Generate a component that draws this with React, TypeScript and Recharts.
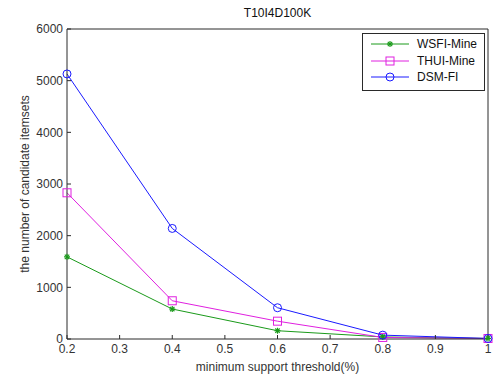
import { Line, LineChart, XAxis, YAxis } from "recharts";

const THRESHOLDS = [0.2, 0.4, 0.6, 0.8, 1.0];
const WSFI_MINE = [1590, 580, 160, 40, 10];
const THUI_MINE = [2830, 740, 345, 30, 10];
const DSM_FI = [5130, 2140, 605, 75, 10];

const X_TICKS = [0.2, 0.3, 0.4, 0.5, 0.6, 0.7, 0.8, 0.9, 1];
const Y_TICKS = [0, 1000, 2000, 3000, 4000, 5000, 6000];

const SERIES = [
  { key: "wsfi", label: "WSFI-Mine", color: "#1a9a1a", marker: "star" },
  { key: "thui", label: "THUI-Mine", color: "#e020e0", marker: "square" },
  { key: "dsm", label: "DSM-FI", color: "#1a1aff", marker: "circle" },
];

const data = THRESHOLDS.map((t, i) => ({
  t,
  wsfi: WSFI_MINE[i],
  thui: THUI_MINE[i],
  dsm: DSM_FI[i],
}));

const FONT = "'Liberation Sans', Arial, sans-serif";
const INK = "#2a2a2a";
const TXT = "#333";

function Marker({ cx, cy, kind, color }: any) {
  if (cx == null || cy == null) return null;
  if (kind === "square")
    return (
      <rect x={cx - 4} y={cy - 4} width={8} height={8} fill="none" stroke={color} strokeWidth={1} />
    );
  if (kind === "circle")
    return <circle cx={cx} cy={cy} r={4} fill="none" stroke={color} strokeWidth={1} />;
  return (
    <g stroke={color} strokeWidth={1.2}>
      <line x1={cx - 3} y1={cy} x2={cx + 3} y2={cy} />
      <line x1={cx} y1={cy - 3} x2={cx} y2={cy + 3} />
      <line x1={cx - 2.2} y1={cy - 2.2} x2={cx + 2.2} y2={cy + 2.2} />
      <line x1={cx - 2.2} y1={cy + 2.2} x2={cx + 2.2} y2={cy - 2.2} />
    </g>
  );
}

function LegendBox() {
  return (
    <div
      style={{
        position: "absolute",
        left: 362,
        top: 33,
        width: 121,
        height: 54,
        border: `1px solid ${INK}`,
        background: "#fff",
        paddingTop: 2,
        fontFamily: FONT,
        fontSize: 12,
        color: "#111",
        boxSizing: "content-box",
      }}
    >
      {SERIES.map((s) => (
        <div key={s.key} style={{ display: "flex", alignItems: "center", height: 16.5 }}>
          <svg width={44} height={12} style={{ marginLeft: 6, flexShrink: 0 }}>
            <line x1={2} y1={6} x2={40} y2={6} stroke={s.color} strokeWidth={1} />
            <Marker cx={21} cy={6} kind={s.marker} color={s.color} />
          </svg>
          <span style={{ marginLeft: 4 }}>{s.label}</span>
        </div>
      ))}
    </div>
  );
}

function YLabel({ viewBox }: any) {
  const cx = 25;
  const cy = viewBox.y + viewBox.height / 2;
  return (
    <text
      x={cx}
      y={cy}
      transform={`rotate(-90, ${cx}, ${cy})`}
      textAnchor="middle"
      dominantBaseline="central"
      fill={TXT}
      fontSize={12}
      fontFamily={FONT}
    >
      the number of candidate itemsets
    </text>
  );
}

export default function App() {
  return (
    <div style={{ position: "absolute", left: 0, top: 0, width: 495, height: 374, background: "#fff" }}>
      <div
        style={{
          position: "absolute",
          top: 6,
          left: 67,
          width: 421,
          textAlign: "center",
          fontFamily: FONT,
          fontSize: 12,
          color: "#111",
        }}
      >
        T10I4D100K
      </div>
      <LineChart
        width={495}
        height={374}
        data={data}
        margin={{ top: 28, right: 6, bottom: 0, left: 0 }}
      >
        <XAxis
          xAxisId="b"
          dataKey="t"
          type="number"
          domain={[0.2, 1]}
          ticks={X_TICKS}
          tickFormatter={(v: number) => (v === 1 ? "1" : v.toFixed(1))}
          height={35}
          tickSize={-4}
          tickMargin={9}
          stroke={INK}
          tick={{ fill: TXT, fontSize: 12, fontFamily: FONT }}
          label={{
            value: "minimum support threshold(%)",
            position: "insideBottom",
            offset: 3,
            style: { fill: TXT, fontSize: 12, fontFamily: FONT },
          }}
        />
        <XAxis
          xAxisId="t"
          orientation="top"
          dataKey="t"
          type="number"
          domain={[0.2, 1]}
          ticks={X_TICKS}
          height={1}
          tickSize={-4}
          tick={false}
          stroke={INK}
        />
        <YAxis
          yAxisId="l"
          domain={[0, 6000]}
          ticks={Y_TICKS}
          width={67}
          tickSize={-4}
          tickMargin={8}
          stroke={INK}
          tick={{ fill: TXT, fontSize: 12, fontFamily: FONT }}
          label={{ content: (p: any) => <YLabel viewBox={p.viewBox} /> }}
        />
        <YAxis
          yAxisId="r"
          orientation="right"
          domain={[0, 6000]}
          ticks={Y_TICKS}
          width={1}
          tickSize={-4}
          tick={false}
          stroke={INK}
        />
        {SERIES.map((s) => (
          <Line
            key={s.key}
            xAxisId="b"
            yAxisId="l"
            dataKey={s.key}
            type="linear"
            stroke={s.color}
            strokeWidth={1}
            isAnimationActive={false}
            dot={(p: any) => (
              <Marker key={`${s.key}-${p.index}`} cx={p.cx} cy={p.cy} kind={s.marker} color={s.color} />
            )}
            activeDot={false}
          />
        ))}
      </LineChart>
      <LegendBox />
    </div>
  );
}
